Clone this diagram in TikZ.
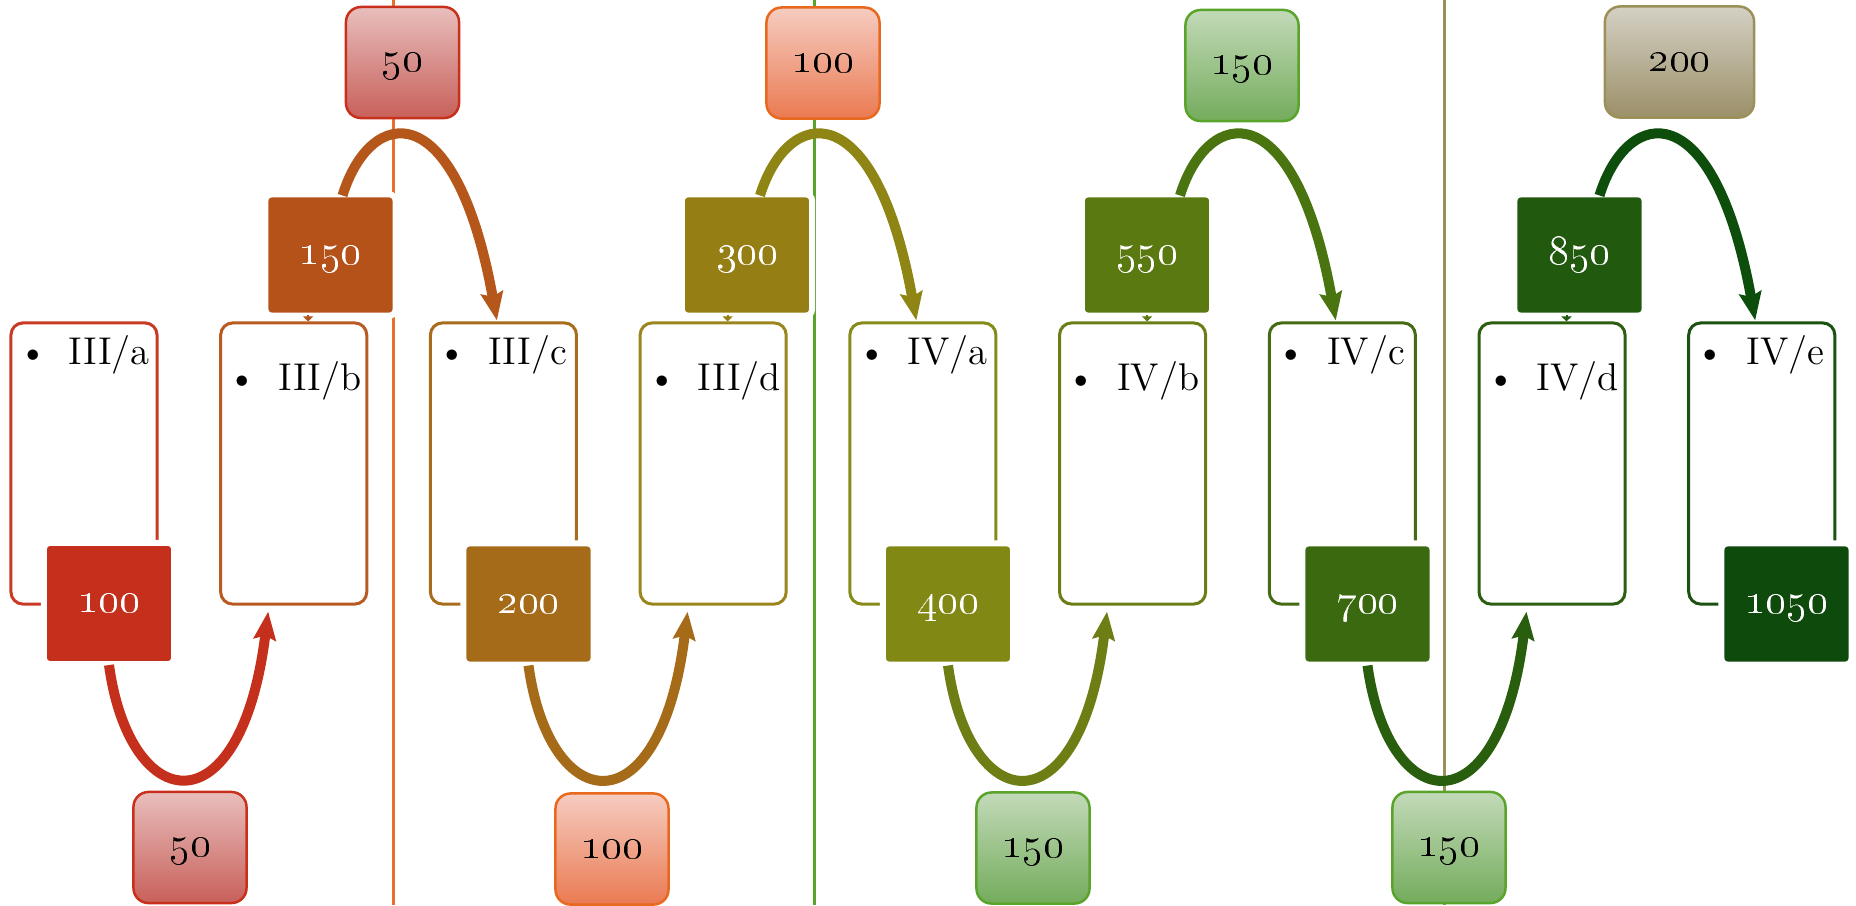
\documentclass[tikz,border=0pt]{standalone}
\usepackage{tikz}
\usetikzlibrary{calc,arrows.meta}

% dark value boxes
\definecolor{sA}{HTML}{C4301C}
\definecolor{sB}{HTML}{B55219}
\definecolor{sC}{HTML}{A56B19}
\definecolor{sD}{HTML}{957F15}
\definecolor{sE}{HTML}{818814}
\definecolor{sF}{HTML}{5B7911}
\definecolor{sG}{HTML}{3B690F}
\definecolor{sH}{HTML}{21590E}
\definecolor{sI}{HTML}{0D4A0C}
% outlines of the tall boxes
\definecolor{bA}{HTML}{C83A24}
\definecolor{bB}{HTML}{B95A22}
\definecolor{bC}{HTML}{A86C1C}
\definecolor{bD}{HTML}{9A861C}
\definecolor{bE}{HTML}{858C1A}
\definecolor{bF}{HTML}{6A7E16}
\definecolor{bG}{HTML}{446A12}
\definecolor{bH}{HTML}{2C5E10}
\definecolor{bI}{HTML}{1C5210}
% arcs
\definecolor{aA}{HTML}{C4301C}
\definecolor{aB}{HTML}{B5571A}
\definecolor{aC}{HTML}{A56B19}
\definecolor{aD}{HTML}{8E8515}
\definecolor{aE}{HTML}{6E7E14}
\definecolor{aF}{HTML}{4A7410}
\definecolor{aG}{HTML}{285E0E}
\definecolor{aH}{HTML}{0D4E0D}
% light step boxes
\definecolor{lRed}{HTML}{C8301C}
\definecolor{lRedT}{HTML}{E8BEBC}
\definecolor{lRedB}{HTML}{C8605A}
\definecolor{lOr}{HTML}{E8681E}
\definecolor{lOrT}{HTML}{F6CCC0}
\definecolor{lOrB}{HTML}{EA7A52}
\definecolor{lGr}{HTML}{5AA42C}
\definecolor{lGrT}{HTML}{C2DAB8}
\definecolor{lGrB}{HTML}{74AC5C}
\definecolor{lKh}{HTML}{9C905A}
\definecolor{lKhT}{HTML}{D4D0C4}
\definecolor{lKhB}{HTML}{9C9068}
\definecolor{vOr}{HTML}{E8702A}

\tikzstyle{tallbox} = [rectangle, rounded corners=0.12cm, minimum width=1.46cm, minimum height=2.81cm, line width=0.03cm, fill=white]
\tikzstyle{valbox} = [rectangle, rounded corners=0.06cm, minimum width=1.30cm, minimum height=1.21cm, draw=white, line width=0.06cm, text=white, text height=5.2pt, text depth=0pt, font=\fontsize{12.5}{14}\selectfont]
\tikzstyle{stepbox} = [rectangle, rounded corners=0.15cm, minimum width=1.13cm, minimum height=1.11cm, line width=0.025cm, text height=5.2pt, text depth=0pt, font=\fontsize{12.5}{14}\selectfont]
\tikzstyle{item} = [anchor=base west, inner sep=0pt, font=\fontsize{11}{13}\selectfont]
\tikzstyle{arc} = [line width=0.1cm, -{Stealth[length=0.28cm,width=0.22cm,inset=0.04cm]}]
\tikzstyle{nub} = [line width=0.02cm, -{Triangle[length=0.05cm,width=0.1cm]}]
\tikzstyle{vline} = [line width=0.03cm]

\begin{document}
\begin{tikzpicture}[x=0.01cm, y=-0.01cm, node distance=2.096cm]
\useasboundingbox (0,0) rectangle (1856,905);

\draw [vline, vOr] (393,0) -- (393,905);
\draw [vline, lGr] (814,0) -- (814,905);
\draw [vline, lKh] (1444,0) -- (1444,905);

\node (s50a) [stepbox, draw=lRed, top color=lRedT, bottom color=lRedB] at (402.5,62.5) {\oldstylenums{50}};
\node (s100a) [stepbox, draw=lOr, top color=lOrT, bottom color=lOrB] at (823,63) {\oldstylenums{100}};
\node (s150a) [stepbox, draw=lGr, top color=lGrT, bottom color=lGrB] at (1242,65.5) {\oldstylenums{150}};
\node (s200a) [stepbox, minimum width=1.49cm, draw=lKh, top color=lKhT, bottom color=lKhB] at (1679.5,62) {\oldstylenums{200}};
\node (s50b) [stepbox, draw=lRed, top color=lRedT, bottom color=lRedB] at (190,847.5) {\oldstylenums{50}};
\node (s100b) [stepbox, draw=lOr, top color=lOrT, bottom color=lOrB] at (612,849) {\oldstylenums{100}};
\node (s150b) [stepbox, draw=lGr, top color=lGrT, bottom color=lGrB] at (1033,848) {\oldstylenums{150}};
\node (s150c) [stepbox, draw=lGr, top color=lGrT, bottom color=lGrB] at (1449,847.5) {\oldstylenums{150}};

\node (IIIa) [tallbox, draw=bA] at (84,463.5) {};
\node (IIIb) [tallbox, draw=bB, right of=IIIa] {};
\node (IIIc) [tallbox, draw=bC, right of=IIIb] {};
\node (IIId) [tallbox, draw=bD, right of=IIIc] {};
\node (IVa) [tallbox, draw=bE, right of=IIId] {};
\node (IVb) [tallbox, draw=bF, right of=IVa] {};
\node (IVc) [tallbox, draw=bG, right of=IVb] {};
\node (IVd) [tallbox, draw=bH, right of=IVc] {};
\node (IVe) [tallbox, draw=bI, right of=IVd] {};

\node [item] at ($(IIIa.north west)+(8,43)$) {\textbullet\hspace{6pt}III/a};
\node [item] at ($(IIIb.north west)+(8,69)$) {\textbullet\hspace{6pt}III/b};
\node [item] at ($(IIIc.north west)+(8,43)$) {\textbullet\hspace{6pt}III/c};
\node [item] at ($(IIId.north west)+(8,69)$) {\textbullet\hspace{6pt}III/d};
\node [item] at ($(IVa.north west)+(8,43)$) {\textbullet\hspace{6pt}IV/a};
\node [item] at ($(IVb.north west)+(8,69)$) {\textbullet\hspace{6pt}IV/b};
\node [item] at ($(IVc.north west)+(8,43)$) {\textbullet\hspace{6pt}IV/c};
\node [item] at ($(IVd.north west)+(8,69)$) {\textbullet\hspace{6pt}IV/d};
\node [item] at ($(IVe.north west)+(8,43)$) {\textbullet\hspace{6pt}IV/e};

\node (v100) [valbox, fill=sA] at (109,603.5) {\oldstylenums{100}};
\node (v150) [valbox, fill=sB] at (330.5,255) {\oldstylenums{150}};
\node (v200) [valbox, fill=sC] at (528.5,604) {\oldstylenums{200}};
\node (v300) [valbox, fill=sD] at (747,255) {\oldstylenums{300}};
\node (v400) [valbox, fill=sE] at (948,604) {\oldstylenums{400}};
\node (v550) [valbox, fill=sF] at (1147,255) {\oldstylenums{550}};
\node (v700) [valbox, fill=sG] at (1367.5,604) {\oldstylenums{700}};
\node (v850) [valbox, fill=sH] at (1579.5,255) {\oldstylenums{850}};
\node (v1050) [valbox, fill=sI] at (1786.5,604) {\oldstylenums{1050}};

\draw [nub, sB] ($(IIIb.north west)+(89,-6)$) -- ($(IIIb.north west)+(89,0)$);
\draw [nub, sD] ($(IIId.north west)+(89,-6)$) -- ($(IIId.north west)+(89,0)$);
\draw [nub, sF] ($(IVb.north west)+(89,-6)$) -- ($(IVb.north west)+(89,0)$);
\draw [nub, sH] ($(IVd.north west)+(89,-6)$) -- ($(IVd.north west)+(89,0)$);

% arcs under the boxes
\draw [arc, aA] ($(v100.south)+(0,-2)$) .. controls +(21,152) and +(-27,220) .. ($(IIIb.south west)+(49,6)$);
\draw [arc, aC] ($(v200.south)+(0,-2)$) .. controls +(21,152) and +(-27,220) .. ($(IIId.south west)+(49,6)$);
\draw [arc, aE] ($(v400.south)+(0,-2)$) .. controls +(21,152) and +(-27,220) .. ($(IVb.south west)+(49,6)$);
\draw [arc, aG] ($(v700.south)+(0,-2)$) .. controls +(21,152) and +(-27,220) .. ($(IVd.south west)+(49,6)$);
% arcs over the boxes
\draw [arc, aB] ($(v150.north)+(12,4)$) .. controls +(28,-90) and +(-41,-228) .. ($(IIIc.north west)+(68,-1)$);
\draw [arc, aD] ($(v300.north)+(13,4)$) .. controls +(28,-90) and +(-41,-228) .. ($(IVa.north west)+(68,-1)$);
\draw [arc, aF] ($(v550.north)+(33,4)$) .. controls +(28,-90) and +(-41,-228) .. ($(IVc.north west)+(68,-1)$);
\draw [arc, aH] ($(v850.north)+(20,4)$) .. controls +(28,-90) and +(-41,-228) .. ($(IVe.north west)+(68,-1)$);

\end{tikzpicture}
\end{document}
